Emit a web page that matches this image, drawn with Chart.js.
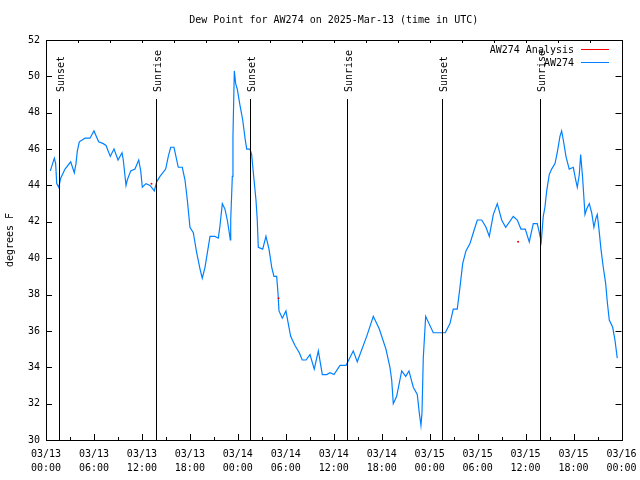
<!DOCTYPE html>
<html>
<head>
<meta charset="utf-8">
<script src="https://cdn.jsdelivr.net/npm/chart.js@4.4.1/dist/chart.umd.min.js"></script>
<style>
  html, body { margin: 0; padding: 0; background: #fff; }
  #wrap { width: 640px; height: 480px; }
</style>
</head>
<body>
<div id="wrap"><canvas id="dewPoint" width="640" height="480"></canvas></div>
<script>
// hours since 03/13 00:00 UTC
const obsHours = [0.54, 1.04, 1.21, 1.34, 1.59, 1.84, 2.38, 3.09, 3.54, 3.75, 3.92, 4.17, 4.88, 5.50, 6.00, 6.59, 7.17, 7.51, 8.04, 8.51,
  9.01, 9.51, 9.67, 10.01, 10.17, 10.60, 11.13, 11.60, 11.85, 12.05, 12.51, 13.01, 13.55, 13.85, 14.26, 14.97, 15.30, 15.60, 16.01, 16.55,
  17.05, 17.39, 17.68, 18.01, 18.43, 18.85, 19.27, 19.55, 19.89, 20.52, 21.14, 21.56, 21.77, 22.06, 22.39, 22.68, 22.93, 23.06, 23.11, 23.31,
  23.39, 23.56, 23.73, 23.93, 24.27, 24.61, 24.90, 25.11, 25.52, 25.73, 25.94, 26.27, 26.43, 26.56, 27.11, 27.52, 27.90, 28.24, 28.52, 28.86,
  29.02, 29.15, 29.56, 30.02, 30.31, 30.61, 31.15, 31.69, 32.06, 32.53, 33.03, 33.56, 34.07, 34.57, 35.12, 35.53, 36.03, 36.78, 37.53, 38.44,
  38.94, 40.12, 40.95, 41.70, 42.53, 43.03, 43.25, 43.45, 43.87, 44.50, 45.00, 45.41, 45.95, 46.45, 46.70, 46.91, 47.04, 47.20, 47.50, 48.45,
  49.95, 50.54, 50.95, 51.45, 51.79, 52.13, 52.54, 53.04, 53.46, 53.96, 54.51, 55.05, 55.46, 55.96, 56.46, 57.01, 57.51, 58.46, 58.96, 59.42,
  59.96, 60.46, 60.96, 61.46, 61.67, 61.96, 62.21, 62.42, 62.64, 62.96, 63.26, 63.68, 63.96, 64.30, 64.51, 64.72, 65.05, 65.46, 65.97, 66.27,
  66.47, 66.72, 66.89, 67.14, 67.43, 67.64, 67.97, 68.27, 68.55, 68.80, 68.97, 69.18, 69.43, 69.72, 70.02, 70.22, 70.47, 70.90, 71.18, 71.47];

const obsDewPoint = [44.8, 45.5, 45.2, 44.1, 43.9, 44.4, 44.9, 45.3, 44.7, 45.2, 45.9, 46.4, 46.6, 46.6, 47.0, 46.4, 46.3, 46.2, 45.6, 46.0,
  45.4, 45.8, 45.4, 44.0, 44.3, 44.8, 44.9, 45.4, 44.8, 43.9, 44.1, 44.0, 43.7, 44.2, 44.5, 44.9, 45.6, 46.1, 46.1, 45.0,
  45.0, 44.3, 43.2, 41.7, 41.4, 40.3, 39.4, 38.9, 39.5, 41.2, 41.2, 41.1, 41.8, 43.0, 42.7, 42.1, 41.4, 41.0, 42.1, 44.5,
  46.7, 50.3, 49.6, 49.3, 48.4, 47.6, 46.6, 46.0, 46.0, 45.7, 44.7, 43.2, 42.1, 40.6, 40.5, 41.2, 40.5, 39.5, 39.0, 39.0,
  38.1, 37.1, 36.7, 37.1, 36.4, 35.7, 35.2, 34.8, 34.4, 34.4, 34.7, 33.9, 34.9, 33.6, 33.6, 33.7, 33.6, 34.1, 34.1, 34.9,
  34.3, 35.7, 36.8, 36.1, 35.0, 34.0, 33.3, 32.0, 32.4, 33.8, 33.5, 33.8, 32.9, 32.5, 31.5, 30.8, 31.5, 34.5, 36.8, 35.9,
  35.9, 36.4, 37.2, 37.2, 38.4, 39.7, 40.4, 40.8, 41.4, 42.1, 42.1, 41.7, 41.2, 42.4, 43.0, 42.1, 41.7, 42.3, 42.1, 41.6,
  41.6, 40.9, 41.9, 41.9, 41.5, 40.9, 42.3, 42.8, 43.7, 44.6, 44.9, 45.2, 45.8, 46.7, 47.0, 46.5, 45.6, 44.9, 45.0, 44.3,
  43.9, 44.6, 45.7, 44.4, 42.4, 42.7, 43.0, 42.5, 41.7, 42.2, 42.4, 41.6, 40.5, 39.5, 38.6, 37.6, 36.6, 36.2, 35.5, 34.5];

const analysisHours = [13.2, 29.1, 59.06];
const analysisDewPoint = [44.1, 37.8, 40.9];

const sunHours = [1.6, 13.81, 25.56, 37.72, 49.52, 61.83];
const sunLabels = ['Sunset', 'Sunrise', 'Sunset', 'Sunrise', 'Sunset', 'Sunrise'];

const tickDates = ['03/13', '03/13', '03/13', '03/13', '03/14', '03/14', '03/14', '03/14', '03/15', '03/15', '03/15', '03/15', '03/16'];
const tickTimes = ['00:00', '06:00', '12:00', '18:00', '00:00', '06:00', '12:00', '18:00', '00:00', '06:00', '12:00', '18:00', '00:00'];

const FONT = '"DejaVu Sans Mono", "Liberation Mono", monospace';
Chart.defaults.font.family = FONT;
Chart.defaults.font.size = 10;
Chart.defaults.color = '#000';

// gnuplot-style frame, ticks, sun lines, title and key
const decorations = {
    id: 'decorations',
    afterDatasetsDraw(chart) {
        const { ctx, chartArea: a, scales: { x, y } } = chart;
        ctx.save();
        ctx.strokeStyle = '#000';
        ctx.lineWidth = 1;

        // frame
        ctx.strokeRect(Math.round(a.left) + 0.5, Math.round(a.top) + 0.5,
            Math.round(a.right - a.left), Math.round(a.bottom - a.top));

        // y ticks, left and right
        ctx.beginPath();
        for (let v = 30; v <= 52; v += 2) {
            const py = Math.round(y.getPixelForValue(v)) + 0.5;
            ctx.moveTo(a.left, py); ctx.lineTo(a.left + 6, py);
            ctx.moveTo(a.right, py); ctx.lineTo(a.right - 6, py);
        }
        // x ticks, bottom (major every 6h, minor every 3h) and top
        for (let h = 0; h <= 72; h += 3) {
            const px = Math.round(x.getPixelForValue(h)) + 0.5;
            const len = h % 6 === 0 ? 6 : 3;
            ctx.moveTo(px, a.bottom); ctx.lineTo(px, a.bottom - len);
        }
        for (let h = 0; h <= 72; h += 4) {
            const px = Math.round(x.getPixelForValue(h)) + 0.5;
            ctx.moveTo(px, a.top); ctx.lineTo(px, a.top + 3);
        }
        ctx.stroke();

        // sunrise / sunset markers
        ctx.font = '10px ' + FONT;
        ctx.fillStyle = '#000';
        sunHours.forEach((h, i) => {
            const px = Math.round(x.getPixelForValue(h)) + 0.5;
            ctx.beginPath();
            ctx.moveTo(px, 99);
            ctx.lineTo(px, a.bottom);
            ctx.stroke();
            ctx.save();
            ctx.translate(px + 4, 92);
            ctx.rotate(-Math.PI / 2);
            ctx.textAlign = 'left';
            ctx.textBaseline = 'alphabetic';
            ctx.fillText(sunLabels[i], 0, 0);
            ctx.restore();
        });

        // title
        ctx.textAlign = 'center';
        ctx.textBaseline = 'middle';
        ctx.fillText('Dew Point for AW274 on 2025-Mar-13 (time in UTC)', (a.left + a.right) / 2, 20);

        // y axis title
        ctx.save();
        ctx.translate(10, (a.top + a.bottom) / 2);
        ctx.rotate(-Math.PI / 2);
        ctx.fillText('degrees F', 0, 0);
        ctx.restore();

        // key
        ctx.textAlign = 'right';
        const keys = [['AW274 Analysis', '#ff0000'], ['AW274', '#0080ff']];
        keys.forEach((k, i) => {
            const ky = 50 + i * 13;
            ctx.fillStyle = '#000';
            ctx.fillText(k[0], 574, ky);
            ctx.strokeStyle = k[1];
            ctx.beginPath();
            ctx.moveTo(581, ky - 0.5);
            ctx.lineTo(609, ky - 0.5);
            ctx.stroke();
        });
        ctx.restore();
    }
};

const ctx = document.getElementById('dewPoint').getContext('2d');
new Chart(ctx, {
    type: 'line',
    data: {
        datasets: [{
            label: 'AW274 Analysis',
            data: analysisHours.map((h, i) => ({ x: h, y: analysisDewPoint[i] })),
            showLine: false,
            pointRadius: 1,
            pointBorderWidth: 0,
            pointBackgroundColor: '#ff0000',
            borderColor: '#ff0000'
        }, {
            label: 'AW274',
            data: obsHours.map((h, i) => ({ x: h, y: obsDewPoint[i] })),
            borderColor: '#0080ff',
            borderWidth: 1.2,
            pointRadius: 0,
            tension: 0
        }]
    },
    options: {
        responsive: false,
        animation: false,
        layout: { padding: { left: 0, top: 40, right: 18.5, bottom: 0 } },
        plugins: { legend: { display: false }, title: { display: false }, tooltip: { enabled: false } },
        scales: {
            x: {
                type: 'linear',
                min: 0,
                max: 72,
                grid: { display: false, drawTicks: false },
                border: { display: false },
                afterFit(scale) {
                    scale.height = 40;
                    scale.paddingLeft = 0;
                    scale.paddingRight = 0;
                },
                afterBuildTicks(scale) {
                    scale.ticks = tickDates.map((d, i) => ({ value: i * 6 }));
                },
                ticks: {
                    autoSkip: false,
                    maxRotation: 0,
                    padding: 7,
                    font: { size: 10, lineHeight: 1.4 },
                    callback: (v, i) => [tickDates[i], tickTimes[i]]
                }
            },
            y: {
                min: 30,
                max: 52,
                grid: { display: false, drawTicks: false },
                border: { display: false },
                afterFit(scale) {
                    scale.width = 46;
                    scale.paddingTop = 0;
                    scale.paddingBottom = 0;
                },
                ticks: { stepSize: 2, padding: 6, font: { size: 10 } }
            }
        }
    },
    plugins: [decorations]
});
</script>
</body>
</html>
